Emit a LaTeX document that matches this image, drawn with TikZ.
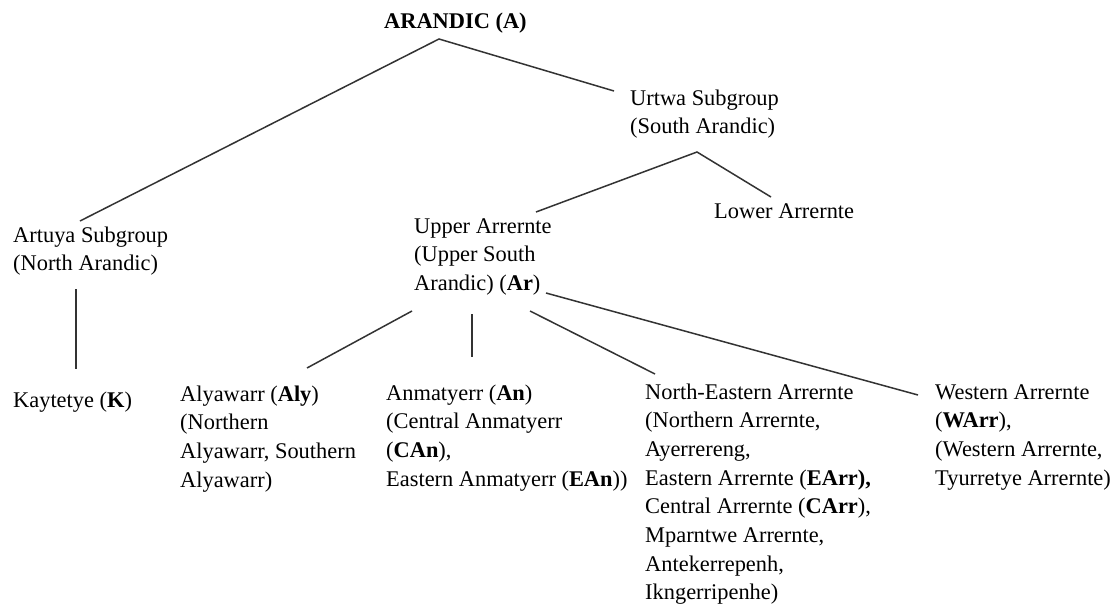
\documentclass[tikz,border=0pt]{standalone}
\usepackage{fontspec}
\setmainfont{Liberation Serif}
\begin{document}
\begin{tikzpicture}[x=1pt,y=-1pt,
  lbl/.style={anchor=base west,inner sep=0pt,align=left,text=black,
    font=\fontsize{22.4}{28.7}\selectfont},
  branch/.style={draw=black!80,line width=1.5pt}]
\useasboundingbox[fill=white] (0,0) rectangle (1120,608);
% labels (positioned at the baseline of their last line)
\node[lbl] (A) at (384,28) {\textbf{ARANDIC (A)}};
\node[lbl] (U) at (630,133.7) {Urtwa Subgroup\\(South Arandic)};
\node[lbl] (N) at (13,270.7) {Artuya Subgroup\\(North Arandic)};
\node[lbl] (UA) at (414,290.4) {Upper Arrernte\\(Upper South\\Arandic) (\textbf{Ar})};
\node[lbl] (LA) at (714,218) {Lower Arrernte};
\node[lbl] (K) at (13,407) {Kaytetye (\textbf{K})};
\node[lbl] (Aly) at (180,487.1) {Alyawarr (\textbf{Aly})\\(Northern\\Alyawarr, Southern\\Alyawarr)};
\node[lbl] (An) at (386,486.1) {Anmatyerr (\textbf{An})\\(Central Anmatyerr\\(\textbf{CAn}),\\Eastern Anmatyerr (\textbf{EAn}))};
\node[lbl] (NE) at (645,599.9) {North-Eastern Arrernte\\(Northern Arrernte,\\Ayerrereng,\\Eastern Arrernte (\textbf{EArr),}\\Central Arrernte (\textbf{CArr}),\\Mparntwe Arrernte,\\Antekerrepenh,\\Ikngerripenhe)};
\node[lbl] (W) at (935,485.1) {Western Arrernte\\(\textbf{WArr}),\\(Western Arrernte,\\Tyurretye Arrernte)};
% connector ends
\coordinate (Atop) at (439,39);
\coordinate (Nend) at (80,221);
\coordinate (Uend) at (614,91);
\coordinate (Utop) at (697,152);
\coordinate (UAend) at (536,212);
\coordinate (LAend) at (771,197);
\coordinate (Ntop) at (76,289);
\coordinate (Kend) at (76,369);
\coordinate (ArA) at (412,311);
\coordinate (AlyEnd) at (307,368);
\coordinate (ArB) at (472,314);
\coordinate (AnEnd) at (472,357);
\coordinate (ArC) at (530,311);
\coordinate (NEEnd) at (655,374);
\coordinate (ArD) at (546,293);
\coordinate (WEnd) at (918,395);
% connectors
\draw[branch] (Nend) -- (Atop) -- (Uend);
\draw[branch] (UAend) -- (Utop) -- (LAend);
\draw[branch] (Ntop) -- (Kend);
\draw[branch] (ArA) -- (AlyEnd);
\draw[branch] (ArB) -- (AnEnd);
\draw[branch] (ArC) -- (NEEnd);
\draw[branch] (ArD) -- (WEnd);
\end{tikzpicture}
\end{document}
